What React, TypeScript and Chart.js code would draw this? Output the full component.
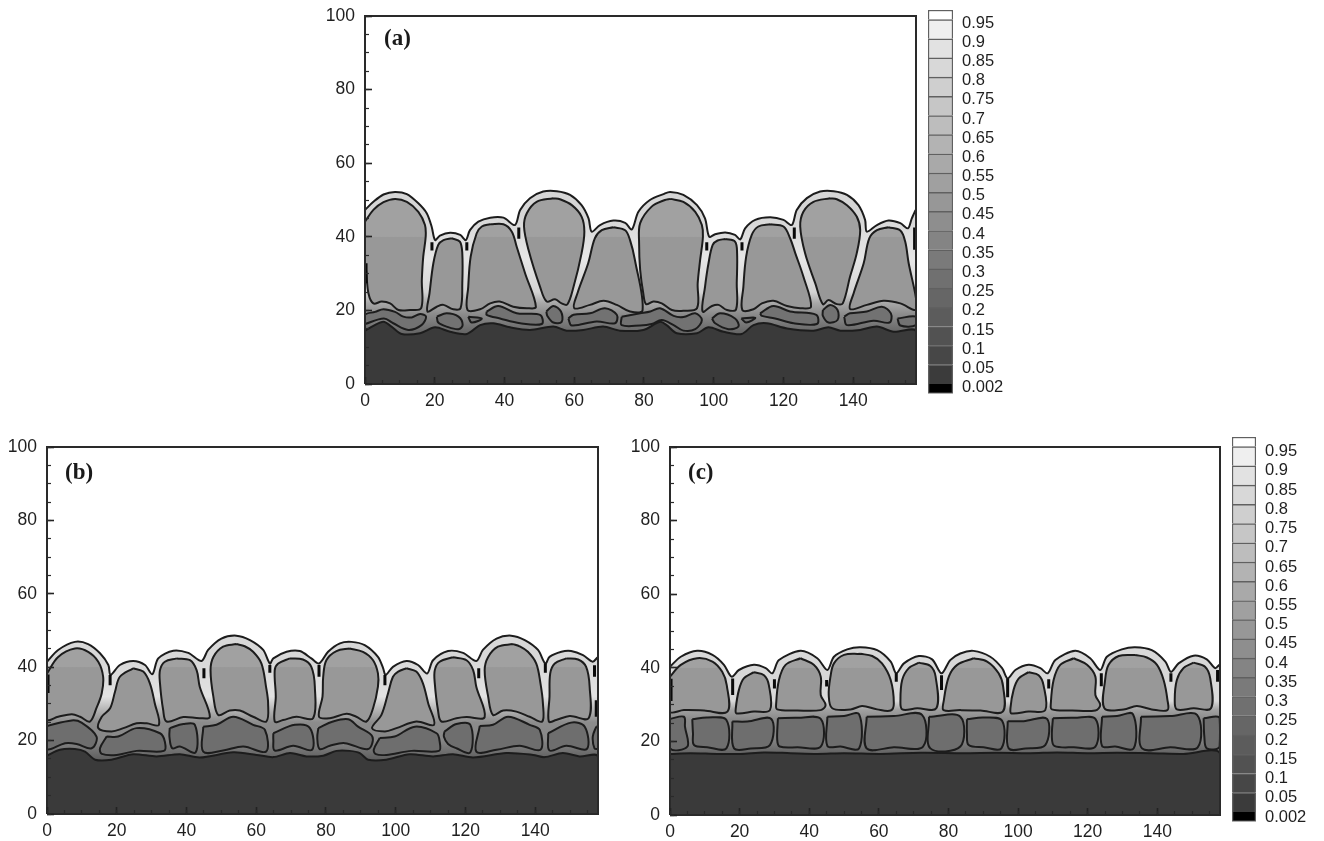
import React, { useEffect, useRef } from "react";
import { Chart, registerables } from "chart.js";
Chart.register(...registerables);

type Poly = number[][];

const xMaxValue = 158;
const yMaxValue = 100;
const levelLabels = ["0.002","0.05","0.1","0.15","0.2","0.25","0.3","0.35","0.4","0.45","0.5","0.55","0.6","0.65","0.7","0.75","0.8","0.85","0.9","0.95"];
const levelBands = [[-0.5,0],[0,1],[1,2],[2,3],[3,4],[4,5],[5,6],[6,7],[7,8],[8,9],[9,10],[10,11],[11,12],[12,13],[13,14],[14,15],[15,16],[16,17],[17,18],[18,19],[19,19.5]];
const levelColors = ["#000000","#3b3b3b","#474747","#525252","#5c5c5c","#666666","#707070","#7a7a7a","#848484","#8e8e8e","#979797","#a0a0a0","#a9a9a9","#b3b3b3","#bdbdbd","#c6c6c6","#cfcfcf","#d8d8d8","#e2e2e2","#efefef","#ffffff"];

// ---------- panel (a)
const aOuter: Poly = [[0,47.3],[2.4,49.5],[5.3,51.5],[8.6,52.2],[12,51.6],[15.3,49.1],[17.7,46.4],[19.1,42.8],[20.1,39.1],[21.5,40.3],[24.4,41.1],[27.3,40.5],[28.9,39.1],[30.1,41.8],[32.5,44.1],[35.9,45.2],[39.7,45.2],[43,43.2],[44.5,47.3],[47.3,50.5],[51.1,52.3],[55,52.4],[58.8,51.4],[62.1,48.6],[64.1,45],[65,41.4],[67.4,43.2],[71.2,44.4],[74.6,43.8],[76.5,42],[78.4,46.8],[81.7,50],[85.6,51.6],[87.5,52.2],[91.3,51.4],[95.2,48.6],[97.5,45],[98.7,40],[100.4,40.7],[103.3,41.2],[106.1,40.5],[107.6,39.3],[109,42.3],[111.9,44.6],[116.2,45.3],[120,44.6],[122.4,43.2],[123.8,47.3],[126.7,50.5],[130.5,52.3],[134.4,52.4],[138.2,51.4],[141.5,48.6],[143.4,44.6],[143.9,41.4],[146.8,43.2],[150.1,44.4],[153.5,43.7],[155.7,42.3],[156.8,45],[158,47.1],[158,0],[0,0]];
const aCells: Poly[] = [
  [[0,44.1],[2.4,47.3],[5.3,49.4],[8.6,50.3],[12,49.5],[15.3,46.8],[17.2,43.2],[17.4,40],[16.7,34.6],[16.3,28.3],[16.1,20.6],[12.9,20.1],[9.6,20.1],[7.2,21.9],[4.8,22.4],[2.4,21.9],[1,24.6],[0.3,31],[0,31.9]],
  [[24.9,39.6],[27.2,38.7],[27.9,35.5],[27.9,27.4],[27.4,20.6],[25.3,20.3],[22.5,21.5],[20.6,21],[17.9,19.7],[18.5,24.6],[19.6,32.8],[21,37.8],[22.5,39.1]],
  [[35.9,43.4],[39.7,43.4],[42.1,41.4],[43.5,37.3],[45.9,30.1],[49,21],[46.4,20.6],[42.5,21],[38.6,22.4],[35.9,21.9],[33,20.3],[29.4,20.1],[29.6,26.4],[30.3,34.6],[32,40.9],[33.5,42.8]],
  [[54,50.5],[49.2,49.5],[46.4,46.4],[45.6,42.8],[46.9,36.4],[50.2,26.4],[52.1,22.4],[54.5,23],[56.4,21.9],[58,21.6],[59.8,26.4],[62.1,35.5],[62.9,41.4],[62.1,45.5],[59.3,48.6],[55.9,50.2]],
  [[71.2,42.6],[74.6,41.8],[76,39.1],[77.4,33.7],[79.6,20.1],[76,19.7],[72.2,21.5],[68.4,22.6],[64.5,21.5],[60,20.6],[60.9,24.6],[64,32.8],[65.9,39.6],[67.9,41.8]],
  [[87.5,50.3],[91.3,49.5],[94.7,46.8],[96.6,43.2],[96.9,40],[96.1,33.7],[95.4,27.4],[95.2,20.6],[91.3,19.9],[88,20.1],[85.1,21.9],[82.7,22.4],[80.6,21.7],[79.8,24.6],[78.9,31],[78.6,38.2],[78.9,43.7],[82.2,48.2],[86,50]],
  [[103.3,39.4],[106.1,38.7],[106.7,35.5],[106.6,27.4],[106.4,20.3],[103.8,20.1],[101.4,21.5],[99.5,21.2],[96.8,19.7],[97.5,26.4],[98.5,32.8],[99.7,37.8],[101.1,39]],
  [[116.2,43.4],[120,42.8],[121.9,39.6],[123.4,35.5],[125.7,29.2],[127.9,21],[124.8,20.6],[121,21.2],[117.1,22.6],[113.8,21.9],[111.4,20.3],[108.2,20.1],[108.5,26.4],[109.3,34.6],[110.9,40.5],[112.8,42.8]],
  [[133.4,50.5],[128.6,49.5],[125.7,46.8],[124.8,42.8],[126.2,35.5],[129.1,27.4],[131.3,21.7],[132.9,22.8],[135.3,21.7],[137,21.9],[139.1,29.2],[141,35.5],[142,41.8],[141,45.5],[138.2,48.6],[135.3,50.2]],
  [[150.1,42.6],[153.5,41.7],[154.9,38.7],[155.9,32.8],[158,23.3],[158,20.1],[153.5,21.9],[148.7,22.6],[143.9,21.5],[139.1,20.4],[140.1,24.6],[143,32.8],[144.6,39.6],[146.8,41.8]],
];
const aMid: Poly[] = [
  [[0,16.3],[5.4,17.8],[8.1,16.5],[12.4,14.7],[16.2,16],[17.5,18.3],[15.8,19],[13.4,18.1],[11,18.3],[8.6,19.6],[5.3,20.3],[2.9,19.6],[0,18.8]],
  [[20.6,18.3],[23.4,19.2],[26.8,18.3],[28,16],[26.8,14.9],[23.4,15.6],[21,16.7]],
  [[29.6,18.3],[33.5,17.8],[30.6,16.7]],
  [[34.9,19.7],[38.2,21.2],[43.5,19.2],[50.2,18.8],[50.7,16.3],[44.5,16.5],[38.7,17.8],[34.9,18.8]],
  [[52,19.7],[54,21.2],[56.2,19.7],[56.4,16.9],[54,16.7],[52.3,18.5]],
  [[58.3,17.8],[59.8,18.8],[64.5,19.2],[68.8,20.6],[72.2,18.8],[71.7,16.5],[66.4,17],[59.3,15.9]],
  [[73.6,18.3],[78.9,19.2],[81.8,19.7],[84.6,20.6],[88.5,18.5],[91.3,18.2],[94.7,19.2],[96.6,17.4],[94.7,14.9],[91.3,14.5],[88.5,16],[85.1,17.4],[82.2,16.3],[78.9,15.9],[73.6,16]],
  [[99.5,17.8],[101.8,19.2],[106.1,17.8],[107.1,15.6],[104.2,14.9],[100.4,16.5]],
  [[107.9,17.8],[111.9,18],[109.3,16.7]],
  [[113.3,19.2],[117.1,21.2],[121.9,19.7],[129.4,18.8],[129.6,16.3],[122.9,16.5],[117.6,17.8],[113.8,18.5]],
  [[131.3,20.1],[133.4,21.5],[135.5,20.1],[135.5,17.4],[132.9,16.7],[131.3,18.5]],
  [[137.4,18.3],[139.1,19.2],[143.9,19.7],[148.2,21],[150.8,19.2],[150.4,16.7],[145.8,17.2],[138.2,16]],
  [[152.7,17.8],[158,18.3],[158,16],[153.5,15.9]],
];
const aBottom: Poly = [[0,14.5],[2.4,15.8],[5.3,16.9],[7.6,15.6],[10.5,13.6],[15.8,13.8],[20.1,15.4],[24.4,14.2],[29.2,13.6],[33,16],[36.8,16.5],[41.6,15.4],[47.3,14.7],[54,15.6],[57.8,14.5],[62.6,14.7],[68.3,15.6],[73.1,14.5],[79.8,14.7],[84.6,16.9],[86.5,16],[89.4,13.8],[95.2,13.8],[98.5,15.4],[102.8,14.2],[108,13.6],[111.4,16],[115.2,16.5],[121,15.1],[128.6,14.5],[132.9,15.4],[136.3,14.5],[142,14.7],[146.8,15.6],[151.6,14.2],[158,14.4],[158,0],[0,0]];
const aSlivers: Poly[] = [[[19.2,38.5],[19.2,36.3]],[[29.2,38.5],[29.2,36.3]],[[44.1,42.5],[44.1,39.5]],[[98,38.5],[98,36.3]],[[108.1,38.5],[108.1,36.3]],[[123.1,42.5],[123.1,39.5]],[[157.6,42.5],[157.6,36.5]],[[0.3,32.8],[0.3,27.4]]];

// ---------- panel (b)
const bOuter: Poly = [[0,41.5],[3.2,44.7],[8,46.9],[11.8,46.3],[15.2,43.8],[17.6,40.6],[18.2,37.9],[20.9,40.6],[24.7,41.7],[28.1,40.6],[30.2,38.1],[31.9,42.4],[36.2,44.5],[40.5,43.9],[44.3,41.7],[46.2,44.7],[50,47.8],[54.3,48.6],[58.2,47.4],[62,44.7],[63.9,41],[64.9,42.4],[68.7,44.2],[72.5,44.4],[75.8,42.4],[78,41],[80.6,44.2],[84,46.5],[87.3,46.9],[91.1,46],[94.9,42.8],[96.4,39.7],[97.1,37.9],[99.2,40.1],[103.1,41.7],[106.4,40.6],[109,38.3],[110.7,41.9],[115,44.4],[119.3,43.9],[123.1,41.7],[125,44.7],[128.9,47.8],[133.1,48.6],[137,47.4],[140.8,44.7],[142.9,41],[144.1,42.8],[147.5,44.2],[150.3,44.4],[153.7,43.3],[156.5,41.5],[158,42.6],[158,0],[0,0]];
const bCells: Poly[] = [
  [[0,38.3],[3.2,42.8],[8,45.1],[11.8,44.2],[14.7,41.5],[16.1,37.4],[15.7,32.9],[14.2,28.9],[12.3,25.2],[9.5,26.5],[7.1,27.2],[3.2,26.5],[0,25.8]],
  [[24.7,39.7],[27.6,38.8],[29.5,35.6],[30.9,30.2],[32.1,24.3],[28.6,24.7],[25.7,24.7],[21.9,23.4],[18.5,22.5],[14.7,23.4],[15.7,26.5],[18.1,28.8],[19.5,33.3],[20.9,37.4]],
  [[37.2,42.4],[41,41.9],[42.9,39.2],[43.8,34.7],[46.7,26.5],[43.8,26.1],[39.1,26.4],[34.3,25.2],[33.3,28.4],[32.4,35.6],[32.4,39.2],[33.8,41.5]],
  [[54.3,46.3],[50.5,45.6],[47.7,42.8],[46.9,39.2],[47.7,32],[49.1,27],[52.4,28.2],[55.3,28.2],[59.1,26.5],[62.9,25.2],[63.4,30.2],[62.8,34.7],[61.5,41],[59.1,44.2],[56.7,45.7]],
  [[69.6,42.4],[73.4,42.1],[75.8,40.1],[76.8,34.7],[76.3,26.1],[71.5,26.5],[67.7,25.6],[65.3,25.2],[65.6,32],[65.3,39.2],[66.3,41]],
  [[86.8,45.1],[83,44.4],[80.1,41.9],[79.2,37.4],[79,32],[78,26.5],[81.1,26.1],[85.9,27.3],[88.7,26.5],[91.6,25.2],[93.5,28.8],[94.9,34.7],[94.9,38.3],[93.5,41.9],[90.6,44.2]],
  [[103.1,39.7],[105.9,38.8],[107.8,35.6],[109.3,30.2],[111,24.3],[105.9,25.2],[100.2,23.4],[96.9,22.5],[93.2,23.4],[95.9,27],[97.8,32.9],[99.2,37.4],[100.7,38.8]],
  [[116.4,42.7],[120.3,41.9],[122.2,39.2],[123.1,34.7],[125.5,26.4],[120.3,26.4],[117.4,26.1],[113.1,25.2],[112.1,28.4],[111.2,35.6],[111.2,39.2],[112.6,41.5]],
  [[133.6,46.3],[129.3,45.6],[126.5,42.8],[125.5,39.2],[126.5,32],[127.9,27],[130.8,28.2],[134.6,27.9],[138.4,26.5],[142,25.2],[142.2,30.2],[141.5,35.6],[140.3,41],[137.9,44.2],[135.5,45.7]],
  [[148.9,42.4],[152.3,42.1],[154.6,40.1],[155.6,34.7],[155.3,26.1],[149.9,26.7],[146,25.6],[143.9,25.2],[144.1,32],[144.3,38.3],[145.6,41]],
];
const bMid: Poly[] = [
  [[0,24],[7.1,25.5],[9.9,24.9],[14.2,21.1],[12.8,17.9],[8.5,19.1],[5.2,19.3],[0,17.7]],
  [[17.1,21.1],[20.4,21.1],[25.7,23.4],[32.4,22],[33.8,19.7],[33.5,17.2],[25.7,17.2],[20,16.1],[15.7,16.4],[15.2,17.9]],
  [[35.2,23.4],[39.1,24.5],[42.4,24.3],[42.6,16.8],[38.1,18.4],[35.9,17.9],[35.1,21.1]],
  [[44.8,23.8],[48.6,24.3],[53.4,26.5],[59.1,24.3],[62.5,22.9],[62.8,17],[56.3,18.4],[50.5,17.3],[44.8,17]],
  [[64.9,22],[71.1,24.3],[75.4,23.4],[76,17.5],[70.6,18.6],[65.3,17.3],[64.9,20.2]],
  [[77.8,23.4],[82,25.2],[86.4,25.8],[89.2,23.8],[93.3,21.1],[92.1,17.7],[85.4,19.3],[81.1,18.6],[78.2,17.7],[77.5,20.7]],
  [[95.4,20.7],[99.7,21.1],[105.5,23.8],[111.7,22],[112.6,19.7],[112.4,17.2],[104.5,17.2],[97.3,16.1],[94.3,16.3],[93.7,17.5]],
  [[114,22.5],[117.4,24.5],[121.4,24.3],[121.4,16.8],[117.4,17.9],[115,19.1],[113.8,21.1]],
  [[124.1,24],[127.9,24.3],[132.2,26.5],[138.4,24.3],[141.3,22.9],[141.5,17.5],[135.5,18.6],[128.9,17.5],[123.1,17]],
  [[143.7,22],[150.3,24.9],[154.2,23.8],[154.8,17.7],[148.9,18.6],[144.1,17.3]],
  [[157.5,23.8],[156.5,21.1],[157,17.9],[158,17.9],[158,23.8]],
];
const bBottom: Poly = [[0,15.9],[3.7,17.5],[8,17.7],[10.9,17],[13.8,14.8],[18.5,14.8],[24.7,16.3],[31.4,15.7],[38.1,16.3],[43.8,15.4],[53.4,16.8],[60.1,16.1],[64.9,15.5],[69.7,16.6],[74.4,15.7],[79.2,15.9],[83,17.2],[86.8,17.2],[89.7,16.6],[92.1,14.8],[97.3,14.8],[104,16.3],[110.7,15.7],[116.4,16.3],[122.2,15.4],[131.7,16.6],[139.4,16.1],[142.7,15.5],[147.9,16.6],[152.7,15.7],[158,15.7],[158,0],[0,0]];
const bSlivers: Poly[] = [[[18.1,37.9],[18.1,35.1]],[[45,39.7],[45,37]],[[63.9,40.6],[63.9,38.5]],[[78,40.6],[78,37.4]],[[96.9,37.9],[96.9,35.1]],[[123.8,39.7],[123.8,37]],[[142.9,41],[142.9,38.5]],[[157,40.5],[157,37.4]],[[157.5,31],[157.5,26.5]],[[0.3,38],[0.3,33]]];

// ---------- panel (c)
const cOuter: Poly = [[0,40.3],[3.1,43],[7.8,44.6],[12.2,43.5],[15.5,40.8],[17.7,37.6],[19.8,39.4],[24.1,40.8],[27.5,39.9],[29.4,38.5],[31.3,42.1],[37.5,44.6],[42.3,42.6],[45.2,39.4],[47.1,43],[50.9,45],[54.7,45.6],[59.5,44.8],[63.4,41.7],[65,38.5],[67.2,41.2],[71.5,43.2],[75.3,42.3],[78,38.5],[80.5,42.1],[83.4,43.9],[87.2,44.6],[92,43],[95.4,39.9],[97,37.1],[99.2,39.4],[103,40.8],[106.4,39.9],[108.5,38.5],[110.7,42.1],[116.4,44.6],[120.7,42.6],[123.6,39.4],[125.5,43],[129.8,45],[133.6,45.6],[138.4,44.8],[142.3,41.7],[143.9,38.9],[146.1,41.2],[150.4,43.3],[154.2,42.3],[156.6,39.9],[158,40.8],[158,0],[0,0]];
const cCells: Poly[] = [
  [[0,37.6],[3.1,40.8],[7.8,42.6],[12.2,41.7],[15,38.9],[16.3,35.3],[16.5,28.1],[9.8,28.4],[4,28.5],[0,28.1]],
  [[24.1,38.8],[27,38],[28.4,35.3],[28.7,28.5],[24.1,28.1],[19.1,27.6],[18.9,29],[19.8,34],[21.2,37.1]],
  [[37.5,42.6],[41.3,40.8],[43.3,37.6],[43.3,32.6],[44.7,29.9],[43.3,28.5],[36.6,28.4],[30.8,28.7],[30.5,30.3],[31.3,36.7],[33.2,40.8]],
  [[54.7,43.8],[50,43.5],[47.1,41.2],[46.1,37.6],[45.6,32.6],[46.6,29],[51.9,28.7],[55.2,29.6],[59.5,28.7],[63.4,28.4],[64.3,30.3],[63.4,36.7],[60.9,41.2],[58.1,43.2]],
  [[71.5,41.4],[74.8,40.5],[76.3,37.6],[76.5,29],[71,29],[66.7,28.7],[66.2,31.3],[66.7,36.7],[68.6,39.9]],
  [[87.2,42.6],[91.1,41.7],[94.4,38.5],[95.7,34.9],[95.6,28.1],[89.2,28.4],[83.4,28.5],[78.6,28.5],[78.6,30.8],[80.1,37.6],[82.5,40.8]],
  [[103,38.8],[105.9,38],[107.3,35.3],[107.8,28.5],[103,28.1],[98.1,27.6],[97.8,29],[98.7,34],[100.2,37.1]],
  [[116,42.6],[119.8,40.8],[122.2,37.6],[122.2,32.6],[123.6,29.9],[122.2,28.4],[115.5,28.4],[109.7,28.7],[109.4,30.3],[110.2,36.7],[112.1,40.8]],
  [[133.6,43.5],[128.9,43.2],[126,40.8],[125,36.7],[124.8,29],[130.3,28.7],[134.1,29.6],[138.4,28.7],[142.9,28.5],[142.9,31.3],[141.8,36.7],[139.9,40.8],[137,42.8]],
  [[150.4,41.4],[153.7,40.3],[155.2,37.1],[155.4,29],[150.4,29],[145.6,28.7],[145,31.3],[145.6,36.7],[147.5,39.9]],
];
const cMid: Poly[] = [
  [[0,26.1],[4,26.7],[4.3,24],[5,18.6],[0,18.1]],
  [[6.4,26],[10.7,26.5],[16.2,25.8],[16.2,18.1],[10.7,18.4],[6.9,19],[6.6,22.2]],
  [[17.9,25.4],[22.2,25.4],[29.1,26.1],[28.7,19],[23.2,18.1],[18.4,18.1]],
  [[31,26.3],[36.6,26.4],[43.3,26.1],[43.3,18.6],[36.6,18.4],[31.5,18.6],[30.8,20.4]],
  [[45.2,26.7],[50,26.9],[54.3,27.4],[54.3,18.1],[49,18.6],[45.2,18.8]],
  [[56.5,26.7],[64.3,26.9],[72.4,27.2],[72.7,18.6],[64.3,18.4],[56.5,18.1]],
  [[74.4,26.7],[83.4,26.7],[83.4,18.6],[74.8,18.1]],
  [[85.3,26],[90.1,26.5],[95.4,25.6],[95.2,18.1],[90.1,18.4],[85.8,19],[85.3,22.2]],
  [[97,25.5],[101.6,25.5],[108.3,26.1],[107.8,19],[102.1,18.1],[97.3,18.1]],
  [[110,26.3],[116,26.4],[122.2,26.1],[122.2,18.6],[116,18.4],[110.4,18.8],[109.7,21.3]],
  [[124.1,26.7],[128.4,26.9],[133,27.4],[133.2,18.1],[127.9,18.6],[124.1,18.8]],
  [[135.3,26.7],[143.7,26.9],[151.4,27.2],[151.6,18.4],[143.7,18.4],[135.6,18.1]],
  [[153.3,26.3],[157.9,26.4],[157.9,18.6],[154.2,18.1],[153.5,21.3]],
];
const cBottom: Poly = [[0,16.6],[5.9,16.8],[13.6,16.6],[20.3,16.6],[27,17],[34.6,16.8],[42.3,16.6],[50,16.8],[60.5,16.6],[72,16.9],[84.4,16.8],[93.9,16.9],[103.5,16.8],[111.2,17],[119.8,16.8],[128.4,16.9],[138,16.8],[147.5,16.6],[158,16.8],[158,0],[0,0]];
const cSlivers: Poly[] = [[[18,37.1],[18,32.6]],[[30,36.9],[30,34.4]],[[45,36.7],[45,34.9]],[[65,38.5],[65,36.2]],[[78,38],[78,34]],[[97,37.1],[97,32]],[[108.8,36.9],[108.8,34.4]],[[123.9,38.5],[123.9,35]],[[143.9,38.5],[143.9,36.2]],[[157.3,39.4],[157.3,36.2]],[[0.3,37],[0.3,31]]];

const aEnvelopeStops: [number,string][] = [[60,"#d6d6d6"],[46,"#d6d6d6"],[34,"#e6e6e6"],[25,"#d4d4d4"],[22,"#a8a8a8"],[19,"#8c8c8c"],[14,"#666666"]];
const bEnvelopeStops: [number,string][] = [[60,"#d8d8d8"],[42,"#d8d8d8"],[32,"#e2e2e2"],[28,"#b0b0b0"],[25,"#8c8c8c"],[20,"#868686"],[15,"#606060"]];
const cEnvelopeStops: [number,string][] = [[60,"#d8d8d8"],[38,"#d8d8d8"],[31,"#dadada"],[28.5,"#a0a0a0"],[26,"#8a8a8a"],[20,"#808080"],[16,"#5c5c5c"]];
const cellStops: [number,string][] = [[100,"#a1a1a1"],[40.1,"#a1a1a1"],[39.9,"#989898"],[0,"#989898"]];

const LINE = "#1c1c1c";
const TEXT = "#1f1f1f";
const FONT = "'Liberation Sans', Arial, sans-serif";

const pts = (p: Poly) => p.map(([x, y]) => ({ x, y }));
const closed = (p: Poly) => pts([...p, p[0]]);

const vGrad = (stops: [number,string][]) => (ctx: any) => {
  const c = ctx.chart;
  if (!c.chartArea) return stops[0][1];
  const s = c.scales.y;
  const y0 = s.getPixelForValue(yMaxValue);
  const y1 = s.getPixelForValue(0);
  const g = c.ctx.createLinearGradient(0, y0, 0, y1);
  stops.forEach(([v, col]) => g.addColorStop((yMaxValue - v) / yMaxValue, col));
  return g;
};

const shape = (p: Poly, fillColor: any, tension: number, width = 2) => ({
  data: closed(p), showLine: true, fill: "shape", backgroundColor: fillColor,
  borderColor: LINE, borderWidth: width, pointRadius: 0, tension,
});

function plotDatasets(outer: Poly, cells: Poly[], mid: Poly[], bottom: Poly, slivers: Poly[], stops: [number,string][], midColor: string) {
  const painted: any[] = [
    shape(outer, vGrad(stops), 0.3),
    ...cells.map((c) => shape(c, vGrad(cellStops), 0.35)),
    ...mid.map((c) => shape(c, midColor, 0.35)),
    shape(bottom, "#3a3a3a", 0.3),
    ...slivers.map((s) => ({ data: pts(s), showLine: true, fill: false, borderColor: "#0a0a0a", borderWidth: 3, pointRadius: 0 })),
    { data: closed([[0,0],[xMaxValue,0],[xMaxValue,yMaxValue],[0,yMaxValue]]), showLine: true, fill: false, borderColor: "#2a2a2a", borderWidth: 2, pointRadius: 0, clip: false },
  ];
  return painted.reverse();
}

const noPad = (s: any) => { s.paddingTop = 0; s.paddingBottom = 0; s.paddingLeft = 0; s.paddingRight = 0; };
const onEvery = (step: number) => (s: any) => { s.ticks = s.ticks.filter((t: any) => t.value % step === 0); };

function plotOptions(box: any) {
  const tickFont = { family: FONT, size: 17.5 };
  const minorBase = {
    type: "linear", bounds: "data", min: 0,
    border: { display: false },
    grid: { drawOnChartArea: false, tickLength: -4, z: 2, tickColor: "#2a2a2a", tickWidth: 1.2 },
    ticks: { display: false, stepSize: 5, autoSkip: false, includeBounds: false },
    afterBuildTicks: onEvery(5),
    weight: -1,
  };
  return {
    responsive: false, animation: false, maintainAspectRatio: false,
    layout: { padding: { left: 0, top: 12, right: 10, bottom: 0 } },
    plugins: { legend: { display: false }, tooltip: { enabled: false }, title: { display: false } },
    scales: {
      x: {
        type: "linear", position: "bottom", bounds: "data", min: 0, max: xMaxValue,
        border: { display: false },
        grid: { drawOnChartArea: false, tickLength: -7, z: 2, tickColor: "#222222", tickWidth: 1.6 },
        ticks: { stepSize: 20, autoSkip: false, includeBounds: false, maxRotation: 0, padding: 14, color: TEXT, font: tickFont },
        afterBuildTicks: onEvery(20),
        afterFit: (s: any) => { s.height = box.xh; noPad(s); },
      },
      xMinor: { ...minorBase, axis: "x", position: "bottom", max: xMaxValue, afterFit: (s: any) => { s.height = 0; noPad(s); } },
      y: {
        type: "linear", position: "left", bounds: "data", min: 0, max: yMaxValue,
        border: { display: false },
        grid: { drawOnChartArea: false, tickLength: -7, z: 2, tickColor: "#222222", tickWidth: 1.6 },
        ticks: { stepSize: 20, autoSkip: false, includeBounds: false, padding: 17, color: TEXT, font: tickFont },
        afterFit: (s: any) => { s.width = box.yw; noPad(s); },
      },
      yMinor: { ...minorBase, axis: "y", position: "left", max: yMaxValue, afterFit: (s: any) => { s.width = 0; noPad(s); } },
    },
  };
}

function colorbarConfig(box: any) {
  return {
    type: "bar",
    data: {
      labels: [""],
      datasets: levelBands.map((b, i) => ({
        data: [b], backgroundColor: levelColors[i], borderColor: "#606060", borderWidth: 1.5,
        barPercentage: 1, categoryPercentage: 1, grouped: false,
      })),
    },
    options: {
      responsive: false, animation: false, maintainAspectRatio: false,
      layout: { padding: { left: 8, top: 10, right: 0, bottom: box.pb } },
      plugins: { legend: { display: false }, tooltip: { enabled: false } },
      scales: {
        x: { display: false },
        y: {
          type: "linear", position: "right", bounds: "data", min: -0.5, max: 19.5,
          border: { display: false },
          grid: { display: false, drawTicks: false },
          afterBuildTicks: (s: any) => { s.ticks = levelLabels.map((_, i) => ({ value: i })); },
          ticks: {
            stepSize: 1, autoSkip: false, includeBounds: false, padding: 9, labelOffset: box.lo,
            color: TEXT, font: { family: FONT, size: 16.5 },
            callback: (v: number) => levelLabels[v] ?? "",
          },
          afterFit: (s: any) => { s.width = box.yw; noPad(s); },
        },
      },
    },
  };
}

const plots = [
  { id: "a", left: 310, top: 4, w: 616, h: 410, xh: 30, yw: 55, outer: aOuter, cells: aCells, mid: aMid, bottom: aBottom, slivers: aSlivers, stops: aEnvelopeStops, midColor: "#727272" },
  { id: "b", left: 0, top: 435, w: 608, h: 406, xh: 27, yw: 47, outer: bOuter, cells: bCells, mid: bMid, bottom: bBottom, slivers: bSlivers, stops: bEnvelopeStops, midColor: "#6e6e6e" },
  { id: "c", left: 615, top: 435, w: 615, h: 406, xh: 26, yw: 55, outer: cOuter, cells: cCells, mid: cMid, bottom: cBottom, slivers: cSlivers, stops: cEnvelopeStops, midColor: "#6e6e6e" },
];
const bars = [
  { id: "ca", left: 920, top: 0, w: 110, h: 410, yw: 77, pb: 16.4, lo: 3.5 },
  { id: "cc", left: 1224, top: 427, w: 100, h: 414, yw: 68, pb: 19.4, lo: 5 },
];
const panelTags = [
  { text: "(a)", left: 384, top: 24 },
  { text: "(b)", left: 65, top: 458 },
  { text: "(c)", left: 688, top: 458 },
];

export default function App() {
  const refs = useRef<Record<string, HTMLCanvasElement | null>>({});
  useEffect(() => {
    const charts: Chart[] = [];
    plots.forEach((p) => {
      const cv = refs.current[p.id]!;
      charts.push(new Chart(cv, {
        type: "scatter",
        data: { datasets: plotDatasets(p.outer, p.cells, p.mid, p.bottom, p.slivers, p.stops, p.midColor) },
        options: plotOptions(p) as any,
      } as any));
    });
    bars.forEach((b) => {
      charts.push(new Chart(refs.current[b.id]!, colorbarConfig(b) as any));
    });
    return () => charts.forEach((c) => c.destroy());
  }, []);
  const canvasStyle = (b: any): React.CSSProperties => ({ position: "absolute", left: b.left, top: b.top, width: b.w, height: b.h, filter: "blur(0.45px)" });
  return (
    <div style={{ position: "absolute", left: 0, top: 0, width: 1324, height: 841, background: "#fff", overflow: "hidden" }}>
      {[...plots, ...bars].map((b: any) => (
        <canvas key={b.id} ref={(el) => { refs.current[b.id] = el; }} width={b.w} height={b.h} style={canvasStyle(b)} />
      ))}
      {panelTags.map((t) => (
        <span key={t.text} style={{ position: "absolute", left: t.left, top: t.top, font: "bold 23px 'Liberation Serif', serif", color: "#1a1a1a", lineHeight: "28px" }}>{t.text}</span>
      ))}
    </div>
  );
}
